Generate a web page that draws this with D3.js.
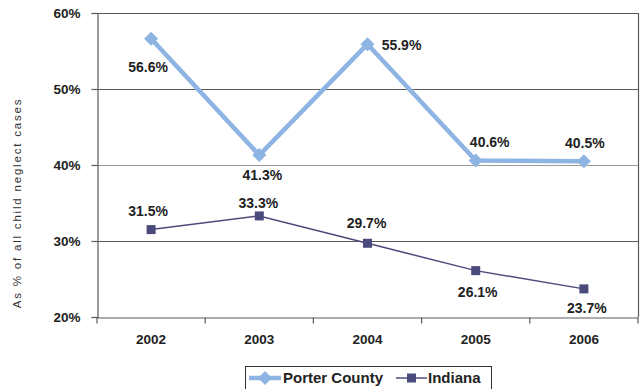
<!DOCTYPE html>
<html><head><meta charset="utf-8">
<script src="https://cdn.jsdelivr.net/npm/d3@7"></script>
<style>body{margin:0;background:#fff}svg{display:block}</style>
</head><body>
<script>
const years = ["2002","2003","2004","2005","2006"];
const porter = [56.6, 41.3, 55.9, 40.6, 40.5];
const indiana = [31.5, 33.3, 29.7, 26.1, 23.7];
const yTicks = [20, 30, 40, 50, 60];
const seriesNames = ["Porter County", "Indiana"];
// label offsets [dx, dy] per point
const porterLabelOff = [[-3,28],[3,20],[34,1],[14,-18],[1,-18]];
const indianaLabelOff = [[-3,-19],[-1,-13],[-1,-20],[2,21],[3,19]];

const W=641,H=389;
const m={l:97,r:3,t:13,b:72};
const svg=d3.select("body").append("svg").attr("width",W).attr("height",H);
const x=d3.scaleBand().domain(years).range([m.l,W-m.r]);
const y=d3.scaleLinear().domain([20,60]).range([H-m.b,m.t]);
const font="Arial, 'Liberation Sans', sans-serif";

// gridlines
svg.append("g").selectAll("line").data(yTicks.filter(d=>d>20)).join("line")
  .attr("x1",m.l).attr("x2",W-m.r)
  .attr("y1",d=>Math.round(y(d))+0.5).attr("y2",d=>Math.round(y(d))+0.5)
  .attr("stroke",d=>d===40?"#9a9a9a":"#5a5a5a").attr("stroke-width",1.2);
// right border
svg.append("line").attr("x1",W-m.r+0.5).attr("x2",W-m.r+0.5).attr("y1",y(60)).attr("y2",y(20))
  .attr("stroke","#5a5a5a").attr("stroke-width",1.2);

// y axis
const ya=svg.append("g").attr("transform",`translate(${m.l+0.5},0)`)
  .call(d3.axisLeft(y).tickValues(yTicks).tickFormat(d=>d+"%").tickSize(6).tickPadding(11));
ya.select(".domain").attr("stroke","#5a5a5a").attr("stroke-width",1.2);
ya.selectAll(".tick line").attr("stroke","#5a5a5a").attr("stroke-width",1.2);
ya.selectAll("text").attr("font-family",font).attr("font-size",13.5).attr("font-weight","bold").attr("fill","#222");

// x axis
const xa=svg.append("g").attr("transform",`translate(0,${Math.round(y(20))+0.5})`)
  .call(d3.axisBottom(x).tickSize(0).tickPadding(17));
xa.select(".domain").attr("stroke","#5a5a5a").attr("stroke-width",1.2);
xa.selectAll("text").attr("font-family",font).attr("font-size",13.5).attr("font-weight","bold").attr("fill","#222");
// boundary ticks
xa.append("g").selectAll("line").data(d3.range(years.length+1)).join("line")
  .attr("x1",i=>m.l+i*x.step()).attr("x2",i=>m.l+i*x.step())
  .attr("y1",0).attr("y2",6).attr("stroke","#5a5a5a").attr("stroke-width",1.2);

// axis title
svg.append("text").attr("transform",`translate(21,${203}) rotate(-90)`)
  .attr("text-anchor","middle").attr("font-family",font).attr("font-size",11.5)
  .attr("letter-spacing","1.8px").attr("fill","#333").text("As % of all child neglect cases");

const cx=d=>x(d)+x.bandwidth()/2;
const pColor="#8db4e2", iColor="#4b4a7c";
const line=d3.line().x((d,i)=>cx(years[i])).y(d=>y(d));

// Indiana
svg.append("path").datum(indiana).attr("d",line).attr("fill","none").attr("stroke",iColor).attr("stroke-width",1.5);
svg.append("g").selectAll("rect").data(indiana).join("rect")
  .attr("x",(d,i)=>cx(years[i])-4.5).attr("y",d=>y(d)-4.5).attr("width",9).attr("height",9).attr("fill",iColor);

// Porter
svg.append("path").datum(porter).attr("d",line).attr("fill","none").attr("stroke",pColor).attr("stroke-width",4.5).attr("stroke-linejoin","round");
const sym="M0,-7L7,0L0,7L-7,0Z";
svg.append("g").selectAll("path").data(porter).join("path")
  .attr("transform",(d,i)=>`translate(${cx(years[i])},${y(d)})`).attr("d",sym).attr("fill",pColor);

// labels
function labels(data,off){
  svg.append("g").selectAll("text").data(data).join("text")
    .attr("x",(d,i)=>cx(years[i])+off[i][0]).attr("y",(d,i)=>y(d)+off[i][1])
    .attr("dy","0.35em").attr("text-anchor","middle")
    .attr("font-family",font).attr("font-size",14).attr("font-weight","bold").attr("fill","#222")
    .text(d=>d.toFixed(1)+"%");
}
labels(porter,porterLabelOff);
labels(indiana,indianaLabelOff);

// legend
const lg=svg.append("g");
lg.append("rect").attr("x",245.5).attr("y",366.5).attr("width",246).attr("height",30)
  .attr("fill","#fff").attr("stroke","#333").attr("stroke-width",1);
lg.append("line").attr("x1",249).attr("x2",281).attr("y1",378).attr("y2",378).attr("stroke",pColor).attr("stroke-width",4.5);
lg.append("path").attr("transform","translate(265,378)").attr("d",sym).attr("fill",pColor);
lg.append("text").attr("x",283).attr("y",378).attr("dy","0.35em").attr("font-family",font)
  .attr("font-size",15).attr("font-weight","bold").attr("fill","#222").text(seriesNames[0]);
lg.append("line").attr("x1",396).attr("x2",427).attr("y1",378).attr("y2",378).attr("stroke",iColor).attr("stroke-width",1.5);
lg.append("rect").attr("x",407).attr("y",373.5).attr("width",9).attr("height",9).attr("fill",iColor);
lg.append("text").attr("x",428).attr("y",378).attr("dy","0.35em").attr("font-family",font)
  .attr("font-size",15).attr("font-weight","bold").attr("fill","#222").text(seriesNames[1]);
</script>
</body></html>
